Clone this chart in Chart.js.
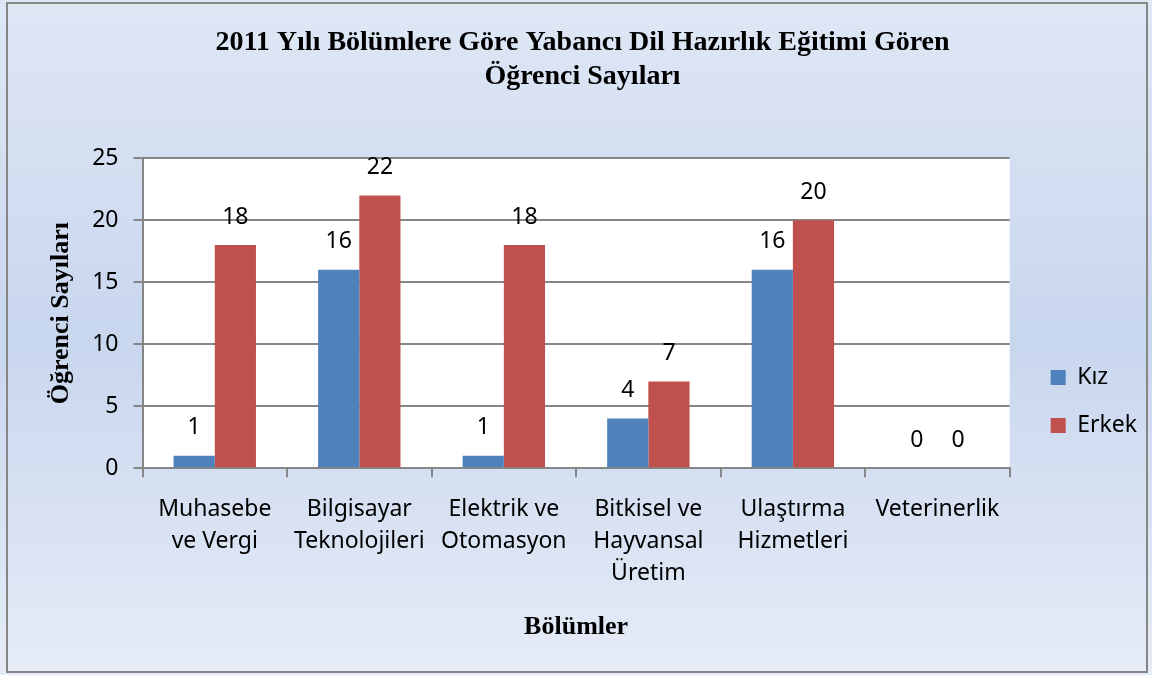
<!DOCTYPE html>
<html>
<head>
<meta charset="utf-8">
<script src="https://cdn.jsdelivr.net/npm/chart.js@4"></script>
<style>
  html, body { margin: 0; padding: 0; }
  #wrap { width: 1152px; height: 675px; }
</style>
</head>
<body>
<div id="wrap"><canvas id="chartOgrenci"></canvas></div>
<script>
// veriler
var bolumler = [
    ["Muhasebe", "ve Vergi"],
    ["Bilgisayar", "Teknolojileri"],
    ["Elektrik ve", "Otomasyon"],
    ["Bitkisel ve", "Hayvansal", "Üretim"],
    ["Ulaştırma", "Hizmetleri"],
    ["Veterinerlik"]
];
var kiz = [1, 16, 1, 4, 16, 0];
var erkek = [18, 22, 18, 7, 20, 0];
var yTicks = [0, 5, 10, 15, 20, 25];

var yaziTipi = "'Noto Sans', 'Open Sans', sans-serif";
var serif = "'Liberation Serif', 'Times New Roman', serif";

// arka plan, cerceve ve beyaz cizim alani
var arkaPlan = {
    id: 'arkaPlan',
    beforeDraw: function(chart) {
        var ctx = chart.ctx;
        var w = chart.width, h = chart.height;
        var g = ctx.createLinearGradient(0, 0, 0, h);
        g.addColorStop(0, '#dfe7f5');
        g.addColorStop(0.5, '#c8d6ee');
        g.addColorStop(1, '#e6ecf7');
        ctx.save();
        ctx.fillStyle = g;
        ctx.fillRect(0, 0, w, h);
        ctx.strokeStyle = '#868686';
        ctx.lineWidth = 2;
        ctx.strokeRect(7, 3, 1140, 669);
        var a = chart.chartArea;
        ctx.fillStyle = '#ffffff';
        ctx.fillRect(a.left, a.top, a.right - a.left, a.bottom - a.top);
        ctx.restore();
    }
};

// lejandi grafigin sagina ve ortasina kaydir
var lejantYeri = {
    id: 'lejantYeri',
    afterLayout: function(chart) {
        var lg = chart.legend;
        var dx = 16, dy = 330;
        lg.left += dx; lg.right += dx;
        lg.top += dy; lg.bottom += dy;
    }
};

// cubuk uzerindeki degerler
var degerler = {
    id: 'degerler',
    afterDatasetsDraw: function(chart) {
        var ctx = chart.ctx;
        ctx.save();
        ctx.font = "23px " + yaziTipi;
        ctx.fillStyle = '#000000';
        ctx.textAlign = 'center';
        ctx.textBaseline = 'middle';
        chart.data.datasets.forEach(function(ds, i) {
            chart.getDatasetMeta(i).data.forEach(function(bar, j) {
                ctx.fillText(ds.data[j], bar.x, bar.y - 28);
            });
        });
        ctx.restore();
    }
};

new Chart(document.getElementById("chartOgrenci"), {
    type: 'bar',
    data: {
        labels: bolumler,
        datasets: [{
            label: "Kız",
            backgroundColor: "#4f81bd",
            data: kiz
        }, {
            label: "Erkek",
            backgroundColor: "#c0504d",
            data: erkek
        }]
    },
    options: {
        responsive: true,
        maintainAspectRatio: false,
        animation: false,
        layout: { padding: { left: 34, right: 21, top: 11, bottom: 32 } },
        barPercentage: 1,
        categoryPercentage: 0.57,
        plugins: {
            title: {
                display: true,
                text: ["2011 Yılı Bölümlere Göre Yabancı Dil Hazırlık Eğitimi Gören", "Öğrenci Sayıları"],
                color: '#000000',
                font: { family: serif, size: 28, weight: 'bold' },
                lineHeight: 1.16,
                padding: { top: 15, bottom: 65 }
            },
            legend: {
                position: 'right',
                align: 'start',
                labels: {
                    color: '#000000',
                    font: { family: yaziTipi, size: 23 },
                    boxWidth: 15,
                    boxHeight: 15,
                    padding: 25
                }
            },
            tooltip: { enabled: false }
        },
        scales: {
            x: {
                grid: {
                    display: true,
                    drawOnChartArea: false,
                    drawTicks: true,
                    tickLength: 9,
                    color: '#868686',
                    lineWidth: 2
                },
                border: { color: '#868686', width: 2 },
                ticks: {
                    color: '#000000',
                    font: { family: yaziTipi, size: 23, lineHeight: 1.4 },
                    maxRotation: 0,
                    padding: 16
                },
                title: {
                    display: true,
                    text: "Bölümler",
                    color: '#000000',
                    font: { family: serif, size: 26, weight: 'bold' },
                    padding: { top: 6, bottom: 0 }
                }
            },
            y: {
                min: 0,
                max: 25,
                afterBuildTicks: function(axis) {
                    axis.ticks = yTicks.map(function(v) { return { value: v }; });
                },
                grid: {
                    color: '#868686',
                    lineWidth: 2,
                    tickLength: 9
                },
                border: { color: '#868686', width: 2 },
                ticks: {
                    color: '#000000',
                    font: { family: yaziTipi, size: 23 },
                    padding: 15
                },
                title: {
                    display: true,
                    text: "Öğrenci Sayıları",
                    color: '#000000',
                    font: { family: serif, size: 26, weight: 'bold' },
                    padding: { top: 12, bottom: 0 }
                }
            }
        }
    },
    plugins: [arkaPlan, lejantYeri, degerler]
});
</script>
</body>
</html>
